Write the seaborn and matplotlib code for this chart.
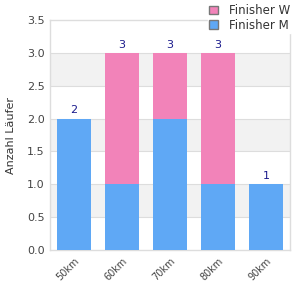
import matplotlib
matplotlib.use("Agg")
import matplotlib.pyplot as plt
import seaborn as sns
import pandas as pd
from matplotlib.patches import Patch

# Data
distances = ["50km", "60km", "70km", "80km", "90km"]
finisher_m = [2, 1, 2, 1, 1]
finisher_w = [0, 2, 1, 2, 0]

df = pd.DataFrame({"distance": distances, "M": finisher_m, "W": finisher_w})
df["total"] = df["M"] + df["W"]

blue = "#5fa8f5"
pink = "#f283b9"

sns.set_style("white")
plt.rcParams["font.family"] = ["DejaVu Sans"]

fig = plt.figure(figsize=(3, 3), dpi=100)
ax = fig.add_axes([50 / 300, 50 / 300, 240 / 300, 230 / 300])

# alternating background bands
for lo in [0.5, 1.5, 2.5]:
    ax.axhspan(lo, lo + 0.5, color="#f2f2f2", lw=0, zorder=0)
for y in [0.5, 1.0, 1.5, 2.0, 2.5, 3.0]:
    ax.axhline(y, color="#dddddd", lw=0.8, zorder=0.5)

# stacked bars: total (pink) underneath, men (blue) on top of it
sns.barplot(data=df, x="distance", y="total", color=pink, saturation=1,
            width=0.72, linewidth=0, ax=ax, zorder=2)
sns.barplot(data=df, x="distance", y="M", color=blue, saturation=1,
            width=0.72, linewidth=0, ax=ax, zorder=3)

for i, t in enumerate(df["total"]):
    ax.text(i, t + 0.05, str(t), ha="center", va="bottom", fontsize=8,
            color="#1a1a8c", zorder=4)

ax.set_ylim(0, 3.5)
ax.set_xlim(-0.5, 4.5)
ax.set_yticks([0, 0.5, 1.0, 1.5, 2.0, 2.5, 3.0, 3.5])
ax.set_yticklabels([f"{v:.1f}" for v in ax.get_yticks()], fontsize=8, color="#444444")
ax.set_xticks(range(len(distances)))
ax.set_xticklabels(distances, rotation=45, ha="right", rotation_mode="anchor",
                   fontsize=7, color="#444444")
ax.tick_params(axis="both", length=0, pad=4)
ax.set_xlabel("")
ax.set_ylabel("Anzahl Läufer", fontsize=8, color="#333333", labelpad=8)

for s in ax.spines.values():
    s.set_color("#dddddd")
    s.set_linewidth(1)

handles = [Patch(facecolor=pink, edgecolor="#777777", label="Finisher W"),
           Patch(facecolor=blue, edgecolor="#777777", label="Finisher M")]
leg = fig.legend(handles=handles, loc="upper right", bbox_to_anchor=(0.99, 1.01),
                 fontsize=8.5, frameon=True, handlelength=0.75, handleheight=0.75,
                 borderpad=0.1, labelspacing=0.15, handletextpad=0.9,
                 fancybox=False)
leg.get_frame().set_edgecolor("white")
leg.get_frame().set_facecolor("white")
leg.get_frame().set_alpha(1)
leg.set_zorder(10)
for t in leg.get_texts():
    t.set_color("#333333")

fig.savefig("out.png", dpi=100)
